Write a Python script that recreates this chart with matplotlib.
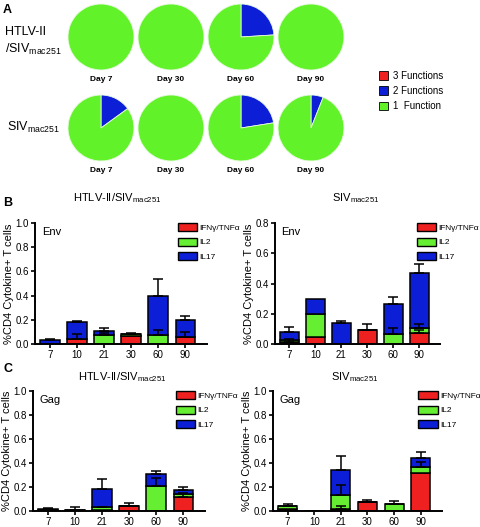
import matplotlib
matplotlib.use("Agg")
import matplotlib.pyplot as plt
from matplotlib.patches import Patch
import numpy as np

plt.rcParams['font.family'] = ['Liberation Sans', 'DejaVu Sans']
plt.rcParams['mathtext.fontset'] = 'custom'
plt.rcParams['mathtext.rm'] = 'Liberation Sans'
plt.rcParams['mathtext.it'] = 'Liberation Sans'

W, H = 480, 527

# ---- panel A: share of cells with 2 functions (rest = 1 function) ----
pie_days = ["Day 7", "Day 30", "Day 60", "Day 90"]
htlv_two_func = [0.0, 0.0, 0.24, 0.0]
siv_two_func = [0.15, 0.0, 0.225, 0.06]
func_labels = ["3 Functions", "2 Functions", "1  Function"]

# ---- panels B/C: stacked bars (segment heights) and upward errors ----
days = ["7", "10", "21", "30", "60", "90"]
cyto_labels = ["IFN\u03b3/TNF\u03b1", "IL2", "IL17"]

b_htlv_ifn = [0.0, 0.04, 0.0, 0.065, 0.0, 0.06]
b_htlv_il2 = [0.0, 0.0, 0.075, 0.015, 0.075, 0.0]
b_htlv_il17 = [0.033, 0.14, 0.035, 0.005, 0.325, 0.14]
b_htlv_ifn_err = [0.0, 0.04, 0.0, 0.0, 0.0, 0.04]
b_htlv_il2_err = [0.0, 0.0, 0.015, 0.0, 0.04, 0.0]
b_htlv_il17_err = [0.007, 0.01, 0.025, 0.01, 0.135, 0.035]

b_siv_ifn = [0.015, 0.045, 0.0, 0.093, 0.0, 0.07]
b_siv_il2 = [0.01, 0.155, 0.0, 0.0, 0.067, 0.035]
b_siv_il17 = [0.055, 0.095, 0.14, 0.0, 0.198, 0.365]
b_siv_ifn_err = [0.02, 0.0, 0.0, 0.037, 0.0, 0.02]
b_siv_il2_err = [0.0, 0.0, 0.0, 0.0, 0.038, 0.025]
b_siv_il17_err = [0.03, 0.0, 0.015, 0.0, 0.045, 0.06]

c_htlv_ifn = [0.0, 0.0, 0.01, 0.04, 0.0, 0.115]
c_htlv_il2 = [0.008, 0.012, 0.02, 0.0, 0.205, 0.025]
c_htlv_il17 = [0.006, 0.0, 0.155, 0.0, 0.105, 0.035]
c_htlv_ifn_err = [0.0, 0.0, 0.0, 0.025, 0.0, 0.035]
c_htlv_il2_err = [0.0, 0.0, 0.005, 0.0, 0.07, 0.0]
c_htlv_il17_err = [0.012, 0.018, 0.08, 0.0, 0.025, 0.025]

c_siv_ifn = [0.015, 0.0, 0.02, 0.077, 0.0, 0.315]
c_siv_il2 = [0.025, 0.0, 0.115, 0.0, 0.058, 0.055]
c_siv_il17 = [0.0, 0.0, 0.21, 0.0, 0.0, 0.07]
c_siv_ifn_err = [0.0, 0.0, 0.02, 0.015, 0.0, 0.0]
c_siv_il2_err = [0.02, 0.0, 0.085, 0.0, 0.022, 0.04]
c_siv_il17_err = [0.0, 0.0, 0.115, 0.0, 0.0, 0.05]

RED = '#ee2020'
GREEN = '#66ee33'
BLUE = '#0c1fd6'
PIE_GREEN = '#62f22a'


def px(x0, y0, x1, y1):
    # pixel box (top-left origin) -> figure fraction rect
    return [x0 / W, 1 - y1 / H, (x1 - x0) / W, (y1 - y0) / H]


fig = plt.figure(figsize=(W / 100, H / 100), dpi=100)

# panel A
fig.text(3 / W, 1 - 10 / H, "A", fontsize=9, fontweight='bold', va='center')
centers_x = [101, 171, 241, 311]
for row_y, fracs in [(37, htlv_two_func), (128, siv_two_func)]:
    for cx, frac, day in zip(centers_x, fracs, pie_days):
        ax = fig.add_axes(px(cx - 34, row_y - 34, cx + 34, row_y + 34))
        ax.pie([frac, 1 - frac], colors=[BLUE, PIE_GREEN], startangle=90,
               counterclock=False, radius=0.97,
               wedgeprops=dict(edgecolor='#e8f8e0', linewidth=0.6))
        ax.set_xlim(-1, 1)
        ax.set_ylim(-1, 1)
        ax.set_aspect('equal')
        ax.text(0.5, -0.13, day, transform=ax.transAxes, ha='center',
                va='center', fontsize=6, fontweight='bold')

fig.text(5 / W, 1 - 32 / H, "HTLV-II", fontsize=9, va='center')
fig.text(5 / W, 1 - 49 / H, r"/SIV$_{\mathrm{mac251}}$", fontsize=9, va='center')
fig.text(7 / W, 1 - 127 / H, r"SIV$_{\mathrm{mac251}}$", fontsize=9, va='center')

fig.legend(handles=[Patch(facecolor=c, edgecolor='black', linewidth=0.6)
                    for c in [RED, BLUE, PIE_GREEN]],
           labels=func_labels, loc='upper left',
           bbox_to_anchor=(370 / W, 1 - 62 / H), frameon=False, fontsize=7,
           handlelength=1.0, handleheight=1.0, handletextpad=0.5,
           labelspacing=0.55)


def bar_panel(box, ifn, il2, il17, ifn_err, il2_err, il17_err, ymax, tag, leg_x):
    ax = fig.add_axes(px(*box))
    x = np.arange(len(days))
    ifn = np.array(ifn)
    il2 = np.array(il2)
    il17 = np.array(il17)
    bottoms = [np.zeros(len(x)), ifn, ifn + il2]
    for vals, bot, err, col in zip([ifn, il2, il17], bottoms,
                                   [ifn_err, il2_err, il17_err],
                                   [RED, GREEN, BLUE]):
        ax.bar(x, vals, bottom=bot, width=0.72, color=col, edgecolor='black',
               linewidth=1.1, zorder=2)
        err = np.array(err)
        m = err > 0
        ax.errorbar(x[m], (bot + vals)[m], yerr=[np.zeros(m.sum()), err[m]],
                    fmt='none', ecolor='black', elinewidth=1.1, capsize=3.5,
                    capthick=1.1, zorder=3)
    ax.set_xlim(-0.55, 5.8)
    ax.set_ylim(0, ymax)
    ticks = np.arange(0, ymax + 0.01, 0.2)
    ax.set_yticks(ticks)
    ax.set_yticklabels(["%.1f" % v for v in ticks])
    ax.set_xticks(x)
    ax.set_xticklabels(days)
    for s in ['top', 'right']:
        ax.spines[s].set_visible(False)
    for s in ['left', 'bottom']:
        ax.spines[s].set_linewidth(1.4)
    ax.tick_params(labelsize=7, width=1.2, length=3, pad=1.5)
    ax.set_ylabel("%CD4 Cytokine+ T cells", fontsize=8, labelpad=1)
    ax.text(0.04, 0.97, tag, transform=ax.transAxes, fontsize=8,
            va='top', ha='left')
    ax.legend(handles=[Patch(facecolor=c, edgecolor='black', linewidth=1.0)
                       for c in [RED, GREEN, BLUE]],
              labels=cyto_labels, loc='upper left',
              bbox_to_anchor=(leg_x, 1.0), borderaxespad=0, borderpad=0,
              frameon=False, fontsize=6,
              handlelength=2.3, handleheight=1.1, handletextpad=0.3,
              labelspacing=0.7)
    return ax


htlv_title = r"HTLV-II/SIV$_{\mathrm{mac251}}$"
siv_title = r"SIV$_{\mathrm{mac251}}$"

fig.text(3 / W, 1 - 203 / H, "B", fontsize=9, fontweight='bold', va='center')
fig.text(117 / W, 1 - 198 / H, htlv_title, fontsize=8, ha='center', va='center')
fig.text(356 / W, 1 - 198 / H, siv_title, fontsize=8, ha='center', va='center')
bar_panel((35, 223, 207, 344), b_htlv_ifn, b_htlv_il2, b_htlv_il17,
          b_htlv_ifn_err, b_htlv_il2_err, b_htlv_il17_err, 1.0, "Env", 0.83)
bar_panel((275, 223, 440, 344), b_siv_ifn, b_siv_il2, b_siv_il17,
          b_siv_ifn_err, b_siv_il2_err, b_siv_il17_err, 0.8, "Env", 0.86)

fig.text(3 / W, 1 - 369 / H, "C", fontsize=9, fontweight='bold', va='center')
fig.text(122 / W, 1 - 377 / H, htlv_title, fontsize=8, ha='center', va='center')
fig.text(355 / W, 1 - 377 / H, siv_title, fontsize=8, ha='center', va='center')
bar_panel((33, 391, 205, 511), c_htlv_ifn, c_htlv_il2, c_htlv_il17,
          c_htlv_ifn_err, c_htlv_il2_err, c_htlv_il17_err, 1.0, "Gag", 0.83)
bar_panel((273, 391, 442, 511), c_siv_ifn, c_siv_il2, c_siv_il17,
          c_siv_ifn_err, c_siv_il2_err, c_siv_il17_err, 1.0, "Gag", 0.86)

fig.savefig("out.png", dpi=100)
